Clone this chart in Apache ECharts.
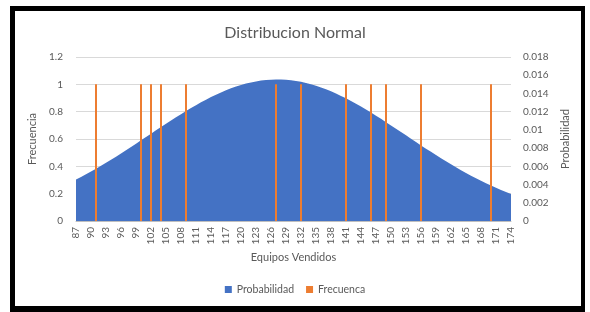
<!DOCTYPE html>
<html><head><meta charset="utf-8">
<script src="https://cdn.jsdelivr.net/npm/echarts@6/dist/echarts.min.js"></script>
<style>
html,body{margin:0;padding:0;background:#fff;}
#c{position:absolute;left:0;top:0;width:590px;height:312px;}
#frame{position:absolute;left:10px;top:6px;width:566px;height:295px;border-left:5px solid #000;border-top:5px solid #000;border-bottom:6px solid #000;border-right:4px solid #000;pointer-events:none;}
</style></head>
<body>
<div id="c"></div>
<div id="frame"></div>
<script>
var categories = [87,88,89,90,91,92,93,94,95,96,97,98,99,100,101,102,103,104,105,106,107,108,109,110,111,112,113,114,115,116,117,118,119,120,121,122,123,124,125,126,127,128,129,130,131,132,133,134,135,136,137,138,139,140,141,142,143,144,145,146,147,148,149,150,151,152,153,154,155,156,157,158,159,160,161,162,163,164,165,166,167,168,169,170,171,172,173,174];
var probabilidad = [0.00455,0.00483,0.00513,0.00543,0.00574,0.00606,0.00639,0.00672,0.00706,0.00741,0.00776,0.00812,0.00848,0.00885,0.00921,0.00958,0.00995,0.01031,0.01067,0.01103,0.01138,0.01173,0.01207,0.01240,0.01271,0.01302,0.01332,0.01360,0.01386,0.01411,0.01434,0.01456,0.01475,0.01493,0.01508,0.01521,0.01532,0.01541,0.01547,0.01551,0.01553,0.01552,0.01550,0.01544,0.01537,0.01527,0.01515,0.01500,0.01484,0.01466,0.01445,0.01423,0.01399,0.01373,0.01346,0.01317,0.01287,0.01256,0.01223,0.01190,0.01156,0.01121,0.01085,0.01049,0.01013,0.00976,0.00940,0.00903,0.00867,0.00830,0.00794,0.00759,0.00724,0.00689,0.00655,0.00622,0.00590,0.00558,0.00528,0.00498,0.00469,0.00441,0.00415,0.00389,0.00364,0.00341,0.00318,0.00297];
var frecuenciaX = [91,100,102,104,109,127,132,141,146,149,156,170];
var frecuencia = [1,1,1,1,1,1,1,1,1,1,1,1];

var catStr = categories.map(String);
var barData = frecuenciaX.map(function(x,i){return [String(x), frecuencia[i]];});
var txt = '#595959';
var font = 'Lato';
var chart = echarts.init(document.getElementById('c'), null, {renderer:'canvas'});
chart.setOption({
  animation:false,
  textStyle:{fontFamily:font},
  title:{text:'Distribucion Normal',left:'center',top:20,textStyle:{fontFamily:font,fontWeight:'normal',fontSize:16,color:txt}},
  legend:{bottom:12,left:'center',itemWidth:7,itemHeight:7,itemGap:12,icon:'rect',textStyle:{fontFamily:font,fontSize:10.5,color:txt},data:['Probabilidad','Frecuenca']},
  grid:{left:76,right:79,top:57,bottom:91},
  xAxis:{type:'category',data:catStr,boundaryGap:false,
    name:'Equipos Vendidos',nameLocation:'middle',nameGap:31,nameTextStyle:{fontFamily:font,fontSize:11,color:txt},
    axisLine:{lineStyle:{color:'#bfbfbf'}},axisTick:{show:false},
    axisLabel:{interval:2,rotate:90,margin:6,fontSize:10,color:txt,fontFamily:font}},
  yAxis:[
    {type:'value',min:0,max:1.2,interval:0.2,
     name:'Frecuencia',nameLocation:'middle',nameGap:29,nameTextStyle:{fontFamily:font,fontSize:11,color:txt},
     axisLabel:{margin:13,fontSize:10,color:txt,fontFamily:font,formatter:function(v){return String(Math.round(v*10)/10);}},
     axisLine:{show:false},axisTick:{show:false},splitLine:{lineStyle:{color:'#d9d9d9'}}},
    {type:'value',min:0,max:0.018,interval:0.002,
     name:'Probabilidad',nameLocation:'middle',nameGap:46,nameRotate:90,nameTextStyle:{fontFamily:font,fontSize:11,color:txt},
     axisLabel:{margin:12,fontSize:10,color:txt,fontFamily:font,formatter:function(v){return String(Math.round(v*1000)/1000);}},
     axisLine:{show:false},axisTick:{show:false},splitLine:{show:false}}
  ],
  series:[
    {name:'Probabilidad',type:'line',yAxisIndex:1,data:probabilidad,symbol:'none',
     lineStyle:{width:0,color:'#4472C4'},itemStyle:{color:'#4472C4'},areaStyle:{color:'#4472C4',opacity:1},z:2},
    {name:'Frecuenca',type:'bar',yAxisIndex:0,data:barData,barWidth:2,itemStyle:{color:'#ED7D31'},z:3}
  ]
});
</script>
</body></html>
